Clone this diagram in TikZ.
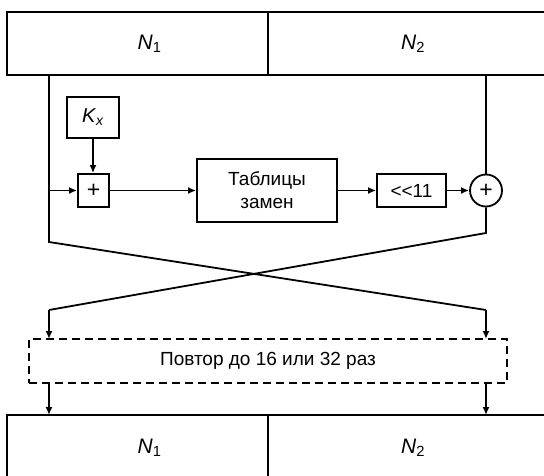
\documentclass[tikz,border=0pt]{standalone}
\usepackage{fontspec}
\setmainfont{Liberation Sans}
\usetikzlibrary{arrows.meta}
\begin{document}
\begin{tikzpicture}[x=1pt,y=-1pt,
  line width=1.8pt,
  box/.style={draw,rectangle,inner sep=0pt,align=center,font=\fontsize{19}{23}\selectfont},
  bigbox/.style={draw,rectangle,inner sep=0pt,font=\fontsize{21}{22}\selectfont},
  arr/.style={-{Latex[length=8pt,width=7pt]}},
  ln/.style={line width=1.8pt}]
\useasboundingbox (0,0) rectangle (544,476);
\clip (0,0) rectangle (544,476);
% top register
\node[bigbox,minimum width=261pt,minimum height=63pt] (N1t) at (137.5,43.5) {\hspace{24pt}\textit{N}\textsubscript{1}};
\node[bigbox,minimum width=278pt,minimum height=63pt] (N2t) at (407,43.5) {\hspace{12pt}\textit{N}\textsubscript{2}};
% round function
\node[box,minimum width=52pt,minimum height=41pt,font=\fontsize{20}{22}\selectfont] (Kx) at (93,117.5) {\textit{K}\textsubscript{\textit{x}}};
\node[box,minimum width=31pt,minimum height=33pt,font=\fontsize{23}{23}\selectfont] (plus) at (93.5,190.5) {+};
\node[box,minimum width=140pt,minimum height=63pt] (tab) at (267,190.5) {Таблицы\\замен};
\node[box,minimum width=69pt,minimum height=33pt] (shift) at (411.5,190.5) {{<}{<}11};
\node[draw,circle,minimum size=32pt,inner sep=0pt,font=\fontsize{23}{23}\selectfont] (xor) at (486,190.5) {+};
% repeat box
\node[box,dashed,dash pattern=on 8pt off 5pt,minimum width=478pt,minimum height=44pt] (rep) at (268,361) {Повтор до 16 или 32 раз};
% bottom register
\node[bigbox,minimum width=261pt,minimum height=65pt] (N1b) at (137.5,447.5) {\hspace{24pt}\textit{N}\textsubscript{1}};
\node[bigbox,minimum width=278pt,minimum height=65pt] (N2b) at (407,447.5) {\hspace{12pt}\textit{N}\textsubscript{2}};
% coordinates
\coordinate (Ltop) at (49,75);
\coordinate (Lmid) at (49,190.5);
\coordinate (Lbend) at (49,242);
\coordinate (Rtop) at (486,75);
\coordinate (Rbend) at (486,233);
\coordinate (Lend) at (49,310);
\coordinate (Rend) at (486,310);
\coordinate (LrepT) at (49,339);
\coordinate (RrepT) at (486,339);
\coordinate (LrepB) at (49,383);
\coordinate (RrepB) at (486,383);
\coordinate (Lbot) at (49,415);
\coordinate (Rbot) at (486,415);
% connectors
\draw[ln] (Ltop) -- (Lbend) -- (Rend);
\draw[arr] (Rend) -- (RrepT);
\draw[ln] (Rtop) -- (xor.north);
\draw[ln] (xor.south) -- (Rbend) -- (Lend);
\draw[arr] (Lend) -- (LrepT);
\draw[arr] (Lmid) -- (plus.west);
\draw[arr] (Kx.south) -- (plus.north -| Kx.south);
\draw[arr] (plus.east) -- (tab.west);
\draw[arr] (tab.east) -- (shift.west);
\draw[arr] (shift.east) -- (xor.west);
\draw[arr] (LrepB) -- (Lbot);
\draw[arr] (RrepB) -- (Rbot);
\end{tikzpicture}
\end{document}
